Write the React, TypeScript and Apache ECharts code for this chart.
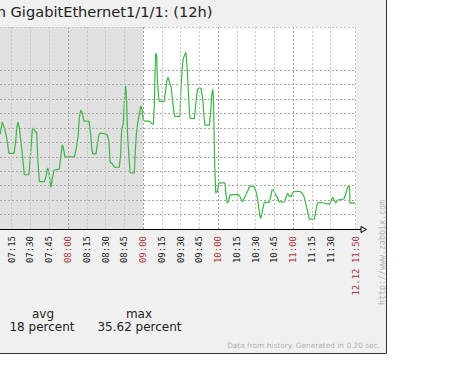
import React, { useEffect, useRef } from "react";
import * as echarts from "echarts";

// ---- data ----
const TITLE = "n GigabitEthernet1/1/1: (12h)";
// minutes after 07:00
const TIMES = [
  5.7, 7.5, 8.9, 10.5, 11.5, 12.8, 16.8, 18.2, 19.0, 20.0, 21.1, 22.4, 23.8, 25.1, 28.8, 30.2, 31.5, 32.3, 34.2, 35.0,
  35.8, 37.1, 41.1, 42.4, 43.8, 44.8, 45.6, 46.4, 47.5, 48.8, 53.1, 54.2, 55.5, 56.3, 57.6, 65.1, 66.4, 68.2, 69.0, 70.2,
  71.4, 72.8, 76.8, 78.2, 79.0, 79.8, 82.4, 83.4, 84.8, 85.6, 89.6, 91.4, 92.8, 93.6, 95.4, 97.0, 101.0, 102.1, 102.9, 104.2,
  105.0, 106.1, 106.9, 107.7, 108.8, 109.6, 113.0, 113.8, 114.6, 115.7, 117.0, 118.1, 119.2, 120.2, 121.0, 124.8, 126.9, 128.2, 129.0, 129.6,
  130.1, 130.9, 131.4, 132.2, 133.0, 136.8, 137.6, 138.9, 140.0, 141.6, 142.4, 143.4, 144.7, 145.3, 149.5, 150.3, 151.4, 152.2, 154.3, 155.4,
  156.2, 157.0, 157.5, 161.0, 162.1, 163.4, 164.2, 166.3, 167.7, 168.7, 169.5, 173.0, 174.1, 174.9, 175.7, 176.2, 176.7, 177.3, 178.1, 179.4,
  180.7, 185.5, 186.3, 187.4, 188.2, 189.5, 196.1, 197.5, 199.4, 200.7, 202.9, 204.9, 206.9, 208.9, 210.3, 211.7, 213.5, 214.3, 215.3, 216.9,
  220.9, 222.1, 223.1, 224.1, 225.5, 226.9, 228.9, 232.9, 234.3, 235.6, 236.9, 238.3, 239.6, 241.5, 245.5, 247.3, 248.7, 250.0, 251.6, 252.9,
  256.9, 258.0, 259.3, 261.5, 264.1, 268.9, 270.3, 271.6, 272.9, 274.0, 275.6, 280.6, 281.7, 283.3, 284.6, 285.2, 285.4, 289.4,
];
const VALUES = [
  21.4, 23.5, 22.7, 21.3, 20.1, 18.1, 18.1, 20.1, 22.5, 23.5, 22.5, 20.1, 17.3, 14.4, 14.4, 18.4, 22.2, 22.5, 21.8, 21.8,
  17.3, 13.2, 13.2, 14.1, 15.6, 14.9, 13.2, 12.2, 13.8, 15.2, 15.4, 17.5, 19.6, 19.0, 17.5, 17.5, 18.7, 21.3, 24.2, 25.6,
  25.1, 23.7, 23.7, 21.3, 19.0, 18.0, 18.0, 19.6, 21.4, 21.6, 21.5, 21.3, 20.1, 16.6, 16.3, 15.7, 15.7, 17.8, 22.2, 23.3,
  27.1, 29.8, 27.1, 21.0, 17.3, 14.7, 14.7, 18.4, 21.3, 23.3, 24.8, 26.3, 25.7, 23.9, 23.7, 23.7, 23.3, 23.1, 26.2, 32.3,
  35.4, 35.2, 31.1, 28.5, 27.1, 27.1, 28.2, 30.5, 31.3, 30.1, 29.7, 27.6, 25.3, 24.5, 24.5, 29.1, 33.1, 34.6, 35.62, 32.3,
  28.8, 25.6, 24.2, 24.1, 26.5, 29.1, 29.4, 29.4, 27.6, 24.5, 23.0, 23.0, 25.3, 28.2, 29.2, 28.2, 22.5, 16.1, 11.3, 11.5,
  13.0, 13.0, 10.9, 9.5, 9.7, 10.9, 11.0, 10.6, 9.7, 10.3, 11.2, 12.3, 12.5, 12.3, 11.5, 10.0, 7.1, 6.9, 8.0, 9.6,
  9.6, 10.6, 11.8, 11.8, 11.2, 10.6, 9.7, 9.7, 10.5, 11.2, 10.7, 10.6, 11.3, 11.5, 11.5, 11.2, 10.6, 9.5, 8.0, 6.7,
  6.7, 8.0, 9.5, 9.6, 9.5, 9.3, 9.9, 10.5, 10.0, 9.5, 10.0, 10.2, 10.9, 12.1, 12.6, 11.8, 9.5, 9.5,
];
const START_HOUR = 7; // minutes are counted from 07:00
const VIEW_START = 5.65; // left edge of the visible plot
const END_MINUTE = 290; // 11:50
const END_LABEL = "12.12 11:50";
const LABEL_TICKS = [15, 30, 45, 60, 75, 90, 105, 120, 135, 150, 165, 180, 195, 210, 225, 240, 255, 270, 290];
const HOUR_TICKS = [60, 120, 180, 240];
const QUARTER_TICKS = [15, 30, 45, 75, 90, 105, 135, 150, 165, 195, 210, 225, 255, 270];
const Y_MIN = 5;
const Y_MAX = 40;
const Y_GRID = [7.5, 10, 12.5, 15, 17.5, 20, 22.5, 25, 27.5, 30, 32.5];
const NON_WORK_END = 120; // 09:00
const LEGEND_NAMES = ["avg", "max"];
const LEGEND_VALUES = ["18 percent", "35.62 percent"];
const FOOTER = "Data from history. Generated in 0.20 sec.";
const SIGNATURE = "http://www.zabbix.com";

const RED = "#a8393f";
const GREEN = "#3cb543";

function fmt(v: number): string {
  if (Math.abs(v - END_MINUTE) < 0.01) return END_LABEL;
  if (!LABEL_TICKS.some((t) => Math.abs(t - v) < 0.01)) return "";
  const m = START_HOUR * 60 + Math.round(v);
  const h = Math.floor(m / 60);
  const mm = m % 60;
  return `${String(h).padStart(2, "0")}:${String(mm).padStart(2, "0")}`;
}

export default function App() {
  const ref = useRef<HTMLDivElement>(null);
  useEffect(() => {
    if (!ref.current) return;
    const chart = echarts.init(ref.current, undefined, { renderer: "svg" });
    const data = TIMES.map((t, i) => [t, VALUES[i]]);
    const dash = [2, 2];
    const gridLines: any[] = [
      ...Y_GRID.map((y) => ({ yAxis: y, lineStyle: { color: "#a6a6a6", type: dash, width: 1 } })),
      ...QUARTER_TICKS.map((x) => ({ xAxis: x, lineStyle: { color: "#c6c6c6", type: dash, width: 1 } })),
      ...HOUR_TICKS.map((x) => ({ xAxis: x, lineStyle: { color: "#a0a0a0", type: dash, width: 1 } })),
      { yAxis: Y_MAX, lineStyle: { color: "#c6c6c6", type: dash, width: 1 } },
      { xAxis: END_MINUTE, lineStyle: { color: "#c6c6c6", type: dash, width: 1 } },
    ];
    const font = "DejaVu Sans";
    chart.setOption({
      animation: false,
      backgroundColor: "#ffffff",
      grid: { left: 0, right: 112.3, top: 27, bottom: 147, containLabel: false },
      xAxis: {
        type: "value",
        min: VIEW_START,
        max: END_MINUTE,
        z: 10,
        axisLine: { show: true, lineStyle: { color: "#000", width: 1 } },
        axisTick: { show: false },
        splitLine: { show: false },
        axisLabel: {
          show: true,
          customValues: LABEL_TICKS,
          rotate: 90,
          margin: 7,
          hideOverlap: false,
          fontFamily: "DejaVu Sans Mono",
          fontSize: 9,
          formatter: (v: number) => fmt(v),
          color: (v: any) => {
            const n = Number(v);
            return HOUR_TICKS.includes(n) || n === END_MINUTE ? RED : "#222";
          },
        },
      },
      yAxis: {
        type: "value",
        min: Y_MIN,
        max: Y_MAX,
        show: false,
        splitLine: { show: false },
      },
      series: [
        {
          type: "line",
          z: 1,
          data,
          showSymbol: false,
          silent: true,
          lineStyle: { opacity: 0, width: 0 },
          markArea: {
            silent: true,
            data: [
              [{ xAxis: VIEW_START, itemStyle: { color: "#e0e0e0" } }, { xAxis: NON_WORK_END }],
              [{ xAxis: NON_WORK_END, itemStyle: { color: "#ffffff" } }, { xAxis: END_MINUTE }],
            ],
          },
        },
        {
          type: "line",
          z: 2,
          data,
          showSymbol: false,
          silent: true,
          lineStyle: { opacity: 0, width: 0 },
          markLine: {
            silent: true,
            symbol: ["none", "none"],
            label: { show: false },
            data: gridLines,
          },
        },
        {
          type: "line",
          z: 3,
          data,
          showSymbol: false,
          lineStyle: { color: GREEN, width: 1.2 },
          itemStyle: { color: GREEN },
        },
      ],
      graphic: [
        {
          type: "rect",
          z: -10,
          shape: { x: 0, y: 0, width: 386, height: 353 },
          style: { fill: "#f0f0f0" },
          silent: true,
        },
        {
          type: "line",
          z: 5,
          shape: { x1: 386.5, y1: 0, x2: 386.5, y2: 353.5 },
          style: { stroke: "#333", lineWidth: 1 },
        },
        {
          type: "line",
          z: 5,
          shape: { x1: 0, y1: 353.5, x2: 386.5, y2: 353.5 },
          style: { stroke: "#333", lineWidth: 1 },
        },
        {
          type: "line",
          z: 50,
          shape: { x1: 354, y1: 229.5, x2: 361, y2: 229.5 },
          style: { stroke: "#000", lineWidth: 1 },
        },
        {
          type: "polygon",
          z: 50,
          shape: { points: [[361, 226.5], [366.5, 229.5], [361, 232.5]] },
          style: { fill: "#f0f0f0", stroke: "#000", lineWidth: 1 },
        },
        {
          type: "text",
          x: 212.5,
          y: 11,
          style: { text: TITLE, fill: "#222", font: `14.6px ${font}`, align: "right", verticalAlign: "middle" },
        },
        ...LEGEND_NAMES.map((n, i) => ({
          type: "text",
          x: i === 0 ? 43 : 139,
          y: 313.5,
          style: { text: n, fill: "#222", font: `12px ${font}`, align: "center", verticalAlign: "middle" },
        })),
        ...LEGEND_VALUES.map((n, i) => ({
          type: "text",
          x: i === 0 ? 42 : 139.5,
          y: 327,
          style: { text: n, fill: "#222", font: `12px ${font}`, align: "center", verticalAlign: "middle" },
        })),
        {
          type: "text",
          x: 380,
          y: 345.8,
          style: { text: FOOTER, fill: "#b0b0b0", font: `7.4px ${font}`, align: "right", verticalAlign: "middle" },
        },
        {
          type: "text",
          x: 381.7,
          y: 252.5,
          rotation: Math.PI / 2,
          style: {
            text: SIGNATURE,
            fill: "#b0b0b0",
            font: `8.3px DejaVu Sans Mono`,
            align: "center",
            verticalAlign: "middle",
          },
        },
      ],
    });
    return () => chart.dispose();
  }, []);
  return (
    <div
      ref={ref}
      style={{ position: "fixed", left: 0, top: 0, width: 468, height: 376 }}
    />
  );
}
